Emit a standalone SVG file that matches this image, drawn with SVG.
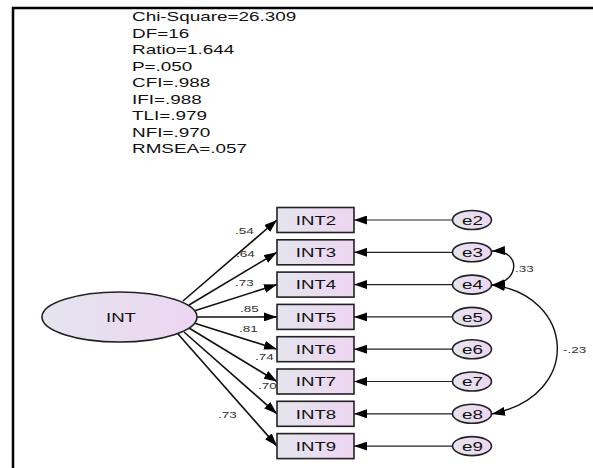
<svg xmlns="http://www.w3.org/2000/svg" width="593" height="468" viewBox="0 0 593 468">
<style>
text{font-family:"Liberation Sans",Arial,sans-serif;fill:#111}
.st{font-size:13.5px}
.bx{font-size:13px;text-anchor:middle}
.lb{font-size:9.5px;fill:#333}
.node rect,.node ellipse{fill:url(#g);stroke:#222;stroke-width:1.6}
.ld{fill:none;stroke:#111;stroke-width:1.6;marker-end:url(#arr)}
.er{fill:none;stroke:#222;stroke-width:1.2;marker-end:url(#arr)}
.cv{fill:none;stroke:#111;stroke-width:1.4;marker-end:url(#arr);marker-start:url(#arr)}
</style>
<defs>
<linearGradient id="g" x1="0" y1="0" x2="1" y2="0">
<stop offset="0" stop-color="#e4e5ee"/>
<stop offset="1" stop-color="#edd5f1"/>
</linearGradient>
<marker id="arr" markerUnits="userSpaceOnUse" markerWidth="14" markerHeight="9" refX="13" refY="4.5" orient="auto-start-reverse">
<path d="M0,0 L13,4.5 L0,9 z" fill="#000"/>
</marker>
</defs>
<rect width="593" height="468" fill="#fff"/>
<path d="M12 8 H593 M13 7 V468" stroke="#000" stroke-width="2.5" fill="none"/>
<g id="stats">
<text class="st" transform="translate(132,21) scale(1.4,1)">Chi-Square=26.309</text>
<text class="st" transform="translate(132,37.5) scale(1.4,1)">DF=16</text>
<text class="st" transform="translate(132,54) scale(1.4,1)">Ratio=1.644</text>
<text class="st" transform="translate(132,70.5) scale(1.4,1)">P=.050</text>
<text class="st" transform="translate(132,87) scale(1.4,1)">CFI=.988</text>
<text class="st" transform="translate(132,103.5) scale(1.4,1)">IFI=.988</text>
<text class="st" transform="translate(132,120) scale(1.4,1)">TLI=.979</text>
<text class="st" transform="translate(132,136.5) scale(1.4,1)">NFI=.970</text>
<text class="st" transform="translate(132,153) scale(1.4,1)">RMSEA=.057</text>
</g>
<g id="connectors">
<path class="ld" d="M183 301 L277 220"/>
<path class="ld" d="M189 305 L277 252.3"/>
<path class="ld" d="M194 311 L277 284.6"/>
<path class="ld" d="M197 317 L277 316.9"/>
<path class="ld" d="M194 323 L277 349.2"/>
<path class="ld" d="M189 328 L277 381.5"/>
<path class="ld" d="M184 332 L277 413.8"/>
<path class="ld" d="M178 334 L277 446.1"/>
<path class="er" d="M452.5 220 H354"/>
<path class="er" d="M452.5 252.3 H354"/>
<path class="er" d="M452.5 284.6 H354"/>
<path class="er" d="M452.5 316.9 H354"/>
<path class="er" d="M452.5 349.2 H354"/>
<path class="er" d="M452.5 381.5 H354"/>
<path class="er" d="M452.5 413.8 H354"/>
<path class="er" d="M452.5 446.1 H354"/>
<path class="cv" d="M492 251 C522 250,520 282,492 285"/>
<path class="cv" d="M492 285 C574 295,584 395,492 414"/>
<text class="lb" transform="translate(235,234) scale(1.42,1)">.54</text>
<text class="lb" transform="translate(236,257) scale(1.42,1)">.64</text>
<text class="lb" transform="translate(235,286) scale(1.42,1)">.73</text>
<text class="lb" transform="translate(240,312) scale(1.42,1)">.85</text>
<text class="lb" transform="translate(239,332) scale(1.42,1)">.81</text>
<text class="lb" transform="translate(255,360) scale(1.42,1)">.74</text>
<text class="lb" transform="translate(258,389) scale(1.42,1)">.70</text>
<text class="lb" transform="translate(218,418) scale(1.42,1)">.73</text>
<text class="lb" transform="translate(515,272) scale(1.42,1)">.33</text>
<text class="lb" transform="translate(563,353) scale(1.42,1)">-.23</text>
</g>
<g id="INT" class="node"><ellipse cx="119.5" cy="317" rx="77.5" ry="25"/><text class="bx" transform="translate(121,321.5) scale(1.43,1)">INT</text></g>
<g id="INT2" class="node"><rect x="277" y="207.5" width="77" height="25"/><text class="bx" transform="translate(316,224.7) scale(1.43,1)">INT2</text></g>
<g id="INT3" class="node"><rect x="277" y="239.8" width="77" height="25"/><text class="bx" transform="translate(316,257) scale(1.43,1)">INT3</text></g>
<g id="INT4" class="node"><rect x="277" y="272.1" width="77" height="25"/><text class="bx" transform="translate(316,289.3) scale(1.43,1)">INT4</text></g>
<g id="INT5" class="node"><rect x="277" y="304.4" width="77" height="25"/><text class="bx" transform="translate(316,321.6) scale(1.43,1)">INT5</text></g>
<g id="INT6" class="node"><rect x="277" y="336.7" width="77" height="25"/><text class="bx" transform="translate(316,353.9) scale(1.43,1)">INT6</text></g>
<g id="INT7" class="node"><rect x="277" y="369" width="77" height="25"/><text class="bx" transform="translate(316,386.2) scale(1.43,1)">INT7</text></g>
<g id="INT8" class="node"><rect x="277" y="401.3" width="77" height="25"/><text class="bx" transform="translate(316,418.5) scale(1.43,1)">INT8</text></g>
<g id="INT9" class="node"><rect x="277" y="433.6" width="77" height="25"/><text class="bx" transform="translate(316,450.8) scale(1.43,1)">INT9</text></g>
<g id="e2" class="node"><ellipse cx="472" cy="220" rx="19.5" ry="9.5"/><text class="bx" transform="translate(472.5,224.7) scale(1.45,1)">e2</text></g>
<g id="e3" class="node"><ellipse cx="472" cy="252.3" rx="19.5" ry="9.5"/><text class="bx" transform="translate(472.5,257) scale(1.45,1)">e3</text></g>
<g id="e4" class="node"><ellipse cx="472" cy="284.6" rx="19.5" ry="9.5"/><text class="bx" transform="translate(472.5,289.3) scale(1.45,1)">e4</text></g>
<g id="e5" class="node"><ellipse cx="472" cy="316.9" rx="19.5" ry="9.5"/><text class="bx" transform="translate(472.5,321.6) scale(1.45,1)">e5</text></g>
<g id="e6" class="node"><ellipse cx="472" cy="349.2" rx="19.5" ry="9.5"/><text class="bx" transform="translate(472.5,353.9) scale(1.45,1)">e6</text></g>
<g id="e7" class="node"><ellipse cx="472" cy="381.5" rx="19.5" ry="9.5"/><text class="bx" transform="translate(472.5,386.2) scale(1.45,1)">e7</text></g>
<g id="e8" class="node"><ellipse cx="472" cy="413.8" rx="19.5" ry="9.5"/><text class="bx" transform="translate(472.5,418.5) scale(1.45,1)">e8</text></g>
<g id="e9" class="node"><ellipse cx="472" cy="446.1" rx="19.5" ry="9.5"/><text class="bx" transform="translate(472.5,450.8) scale(1.45,1)">e9</text></g>
</svg>
